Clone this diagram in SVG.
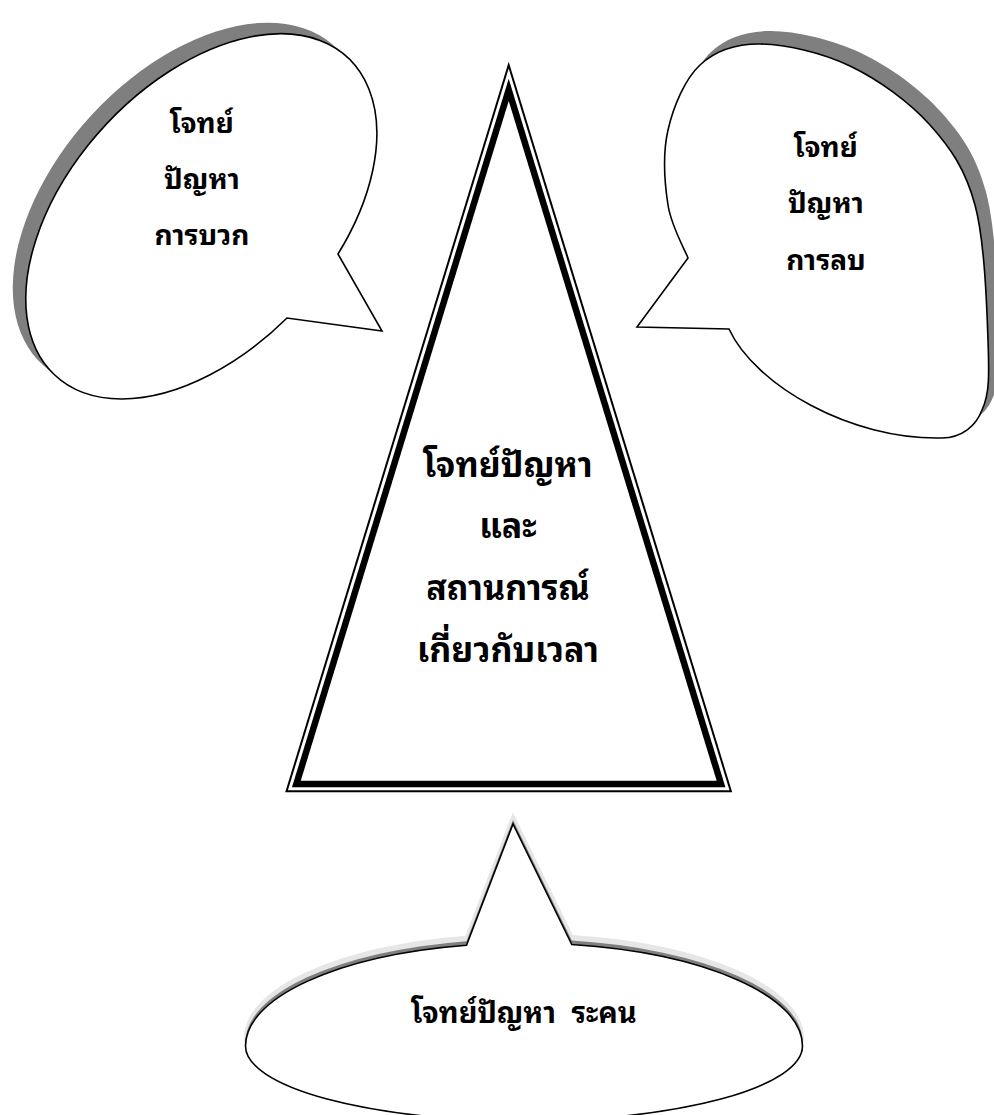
<svg xmlns="http://www.w3.org/2000/svg" width="994" height="1115" viewBox="0 0 994 1115">
<defs>
<style>
.bub{fill:#ffffff;stroke:#000000;stroke-width:1.6;stroke-linejoin:miter}
.shd{fill:#7f7f7f;stroke:none}
.shl{fill:#e6e6e6;stroke:#e6e6e6;stroke-width:3;stroke-linejoin:miter}
.t{font-family:'Noto Sans Thai Looped','Loma','Garuda','Noto Serif Thai','Noto Sans Thai',sans-serif;font-weight:bold;fill:#000000;text-anchor:middle}
.s28{font-size:28px}
.s29{font-size:29px;word-spacing:8px}
.s34{font-size:34px}
</style>
<path id="leftShape" d="M 338,254 L 382,331 L 287,318 A 216 132.3 -47.5 1 1 338,254 Z"/>
<path id="rightShape" d="M 688,258 L 637,327 L 729,329 C 755,385 850,440 942,438 C 962,437.6 976,426 982,410 C 989.7,393.7 989.2,374.2 988,340 C 986.8,305.8 984.7,240.8 975,205 C 965.3,169.2 950.8,148.2 930,125 C 909.2,101.8 878.3,79.5 850,66 C 821.7,52.5 785,44.2 760,44 C 735,43.8 715.3,50.7 700,65 C 684.7,79.3 673.3,106.7 668,130 C 662.7,153.3 664.7,183.7 668,205 C 671.3,226.3 684.7,249.2 688,258 Z"/>
<path id="bottomShape" d="M 245.5,1046 A 278.5 103 0 0 1 466.5,945.2 L 513,824 L 571.8,944.5 A 278.5 103 0 0 1 802.5,1046 A 278.5 75 0 0 1 524,1121 A 278.5 75 0 0 1 245.5,1046 Z"/>
</defs>
<rect x="0" y="0" width="994" height="1115" fill="#ffffff"/>
<g id="connectors"/>
<g id="node-left">
<use href="#leftShape" class="shd" transform="translate(-13,-11)"/>
<use href="#leftShape" class="bub"/>
<text class="t s28" x="202" y="133">โจทย์</text>
<text class="t s28" x="202" y="189">ปัญหา</text>
<text class="t s28" x="202" y="245">การบวก</text>
</g>
<g id="node-right">
<use href="#rightShape" class="shd" transform="translate(11,-13)"/>
<use href="#rightShape" class="bub"/>
<text class="t s28" x="826" y="157">โจทย์</text>
<text class="t s28" x="826" y="213">ปัญหา</text>
<text class="t s28" x="826" y="270">การลบ</text>
</g>
<g id="node-center">
<polygon points="508.7,61.7 285.2,792.3 732.2,792.3" fill="#000000"/>
<polygon points="508.7,68.54 287.9,790.3 729.5,790.3" fill="#ffffff"/>
<polygon points="508.7,78.8 291.96,787.3 725.44,787.3" fill="#000000"/>
<polygon points="508.7,101.03 300.75,780.8 716.65,780.8" fill="#ffffff"/>
<text class="t s34" x="508" y="477">โจทย์ปัญหา</text>
<text class="t s34" x="508" y="538">และ</text>
<text class="t s34" x="508" y="600">สถานการณ์</text>
<text class="t s34" x="508" y="662">เกี่ยวกับเวลา</text>
</g>
<g id="node-bottom">
<use href="#bottomShape" class="shl" transform="translate(0,-8)"/>
<use href="#bottomShape" class="shd" transform="translate(0,-4)"/>
<use href="#bottomShape" class="bub"/>
<text class="t s29" x="524" y="1023">โจทย์ปัญหา ระคน</text>
</g>
</svg>
